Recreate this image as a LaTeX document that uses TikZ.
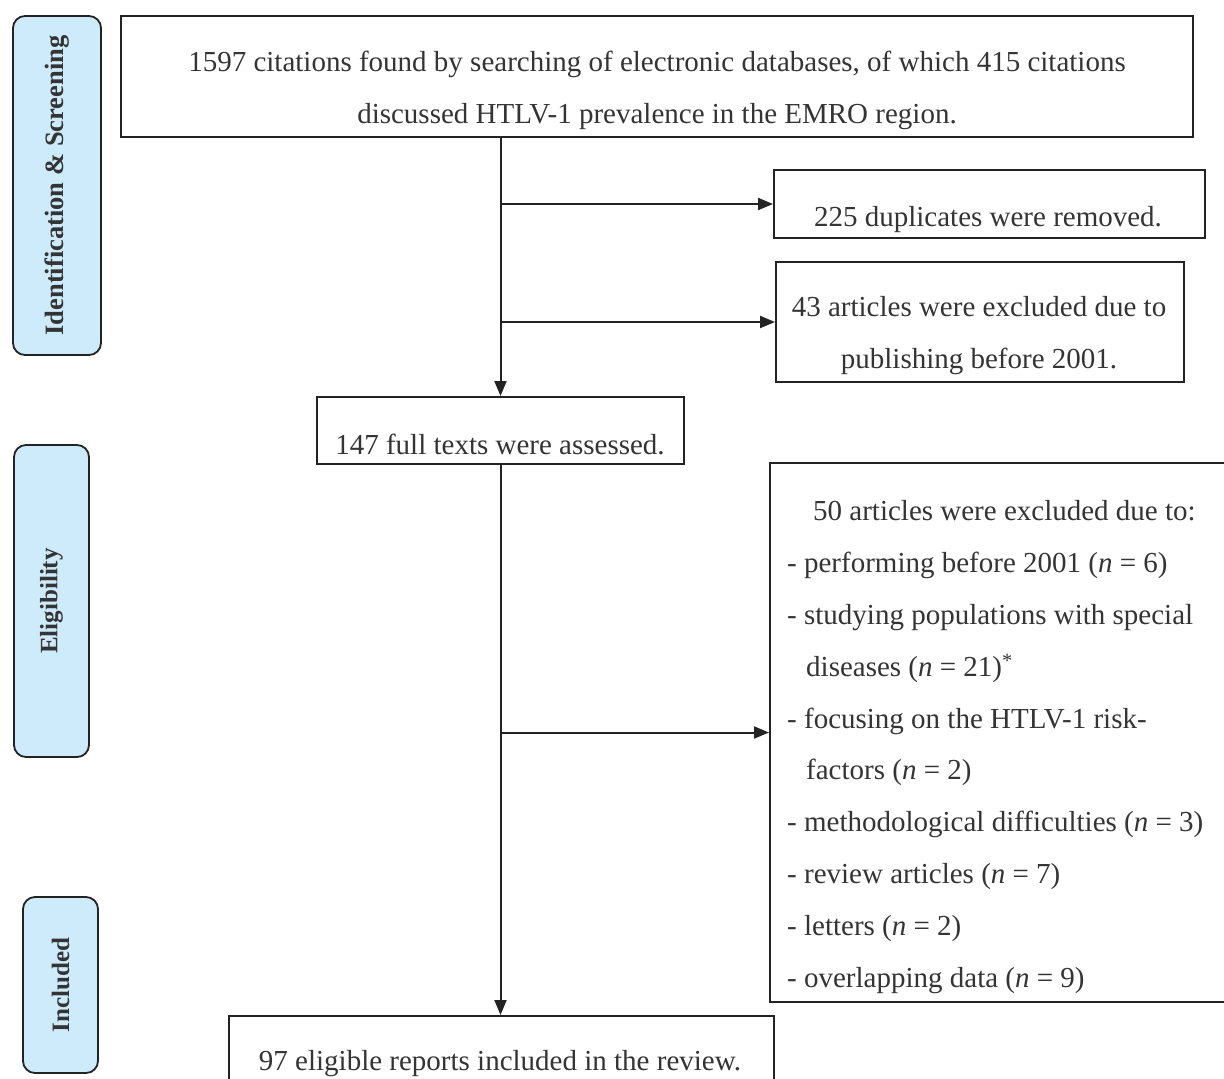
\documentclass[tikz,border=0pt]{standalone}
\usepackage{fontspec}
\setmainfont{Liberation Serif}
\usetikzlibrary{arrows.meta}
\definecolor{sidefill}{RGB}{205,235,251}
\definecolor{txt}{RGB}{52,52,52}
\definecolor{bord}{RGB}{35,35,35}
\begin{document}
\begin{tikzpicture}[x=1pt,y=-1pt,
  box/.style={draw=bord, line width=2pt, rectangle, inner sep=0pt},
  side/.style={draw=bord, fill=sidefill, line width=1.8pt, rounded corners=12pt, inner sep=0pt,
    rotate=90, text=txt, font=\bfseries\fontsize{25}{30}\selectfont},
  lbl/.style={text=txt, font=\fontsize{29}{52}\selectfont, inner sep=0pt},
  link/.style={draw=bord, line width=2pt},
  arr/.style={link, -{Triangle[length=15pt,width=12pt]}}
]
\useasboundingbox (0,0) rectangle (1224,1079);
\fill[white] (0,0) rectangle (1224,1079);

% side boxes
\node[side, minimum width=339pt, minimum height=88pt, font=\bfseries\fontsize{26.5}{30}\selectfont] (sid) at (57,185.5) {Identification \& Screening};
\node[side, minimum width=312pt, minimum height=75pt] (sel) at (51.5,601) {Eligibility};
\node[side, minimum width=176pt, minimum height=75pt] (sinc) at (60.5,985) {Included};

% boxes
\node[box, minimum width=1072pt, minimum height=121pt] (main) at (657,76.5) {};
\node[lbl, align=center] (tmain) at (657,90) {1597 citations found by searching of electronic databases, of which 415 citations\\discussed HTLV-1 prevalence in the EMRO region.};

\node[box, minimum width=431pt, minimum height=68pt] (b225) at (989.5,204) {};
\node[lbl] (t225) at (988,220) {225 duplicates were removed.};

\node[box, minimum width=408pt, minimum height=120pt] (b43) at (980,322) {};
\node[lbl, align=center] (t43) at (979,336) {43 articles were excluded due to\\publishing before 2001.};

\node[box, minimum width=367pt, minimum height=67pt] (b147) at (500.5,430.5) {};
\node[lbl] (t147) at (500,444) {147 full texts were assessed.};

\node[box, minimum width=462pt, minimum height=539pt] (b50) at (1001,732.5) {};
\node[lbl, align=left, anchor=west, font=\fontsize{29}{51.8}\selectfont] (t50) at (787,747) {%
\hspace*{26pt}50 articles were excluded due to:\\
- performing before 2001 (\textit{n} = 6)\\
- studying populations with special\\
\hspace*{19pt}diseases (\textit{n} = 21)\textsuperscript{*}\\
- focusing on the HTLV-1 risk-\\
\hspace*{19pt}factors (\textit{n} = 2)\\
- methodological difficulties (\textit{n} = 3)\\
- review articles (\textit{n} = 7)\\
- letters (\textit{n} = 2)\\
- overlapping data (\textit{n} = 9)};

\node[box, minimum width=545pt, minimum height=84pt] (b97) at (501.5,1058) {};
\node[lbl] (t97) at (500,1064) {97 eligible reports included in the review.};

% connectors
\draw[arr] (main.south -| b147.north) -- (b147.north);
\draw[arr] (b225.west -| b147.north) -- (b225.west);
\draw[arr] (b43.west -| b147.north) -- (b43.west);
\draw[arr] (b147.south) -- (b147.south |- b97.north);
\draw[arr] (b50.west -| b147.south) -- (b50.west);
\end{tikzpicture}
\end{document}
